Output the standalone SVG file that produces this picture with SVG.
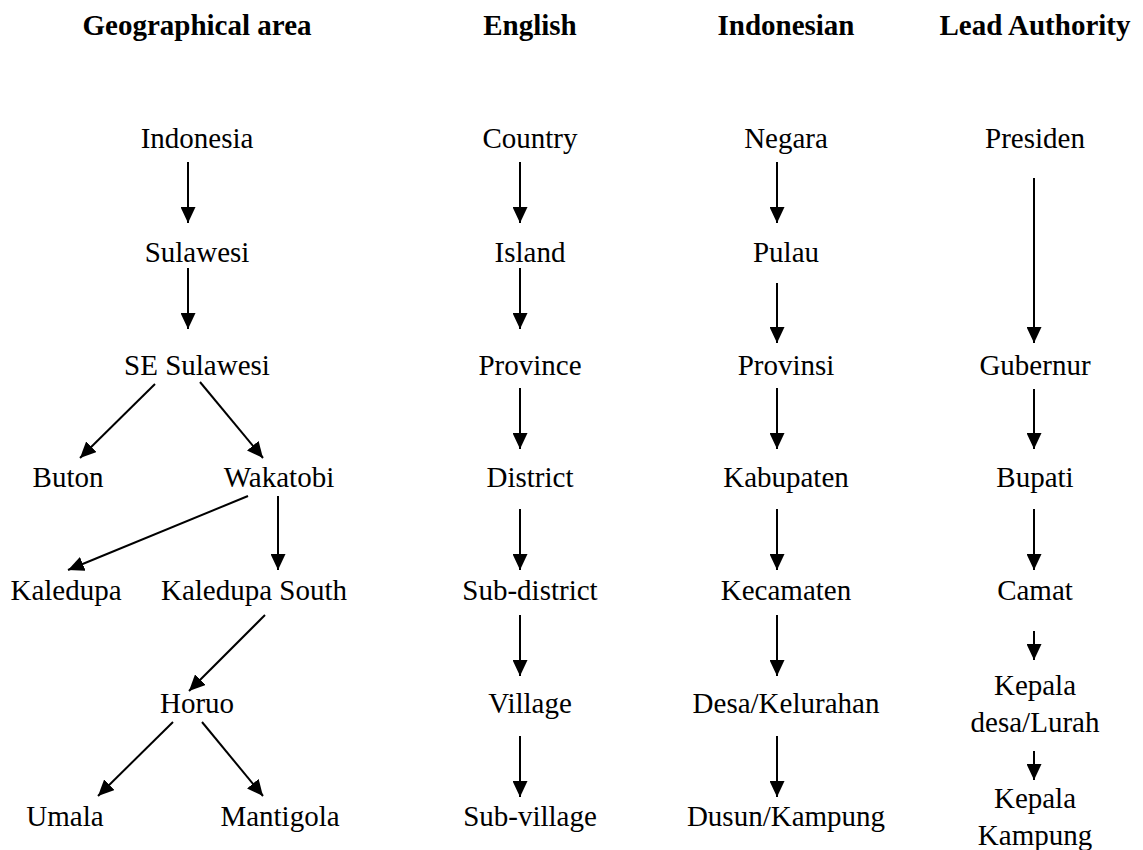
<svg xmlns="http://www.w3.org/2000/svg" width="1143" height="850" viewBox="0 0 1143 850">
<style>
text{font-family:"Liberation Serif","Times New Roman",serif;font-size:29px;fill:#000;text-anchor:middle}
.h{font-weight:bold}
.c line{stroke:#000;stroke-width:2;marker-end:url(#ah)}
</style>
<defs>
<marker id="ah" markerUnits="userSpaceOnUse" markerWidth="16" markerHeight="15" refX="16" refY="7.5" orient="auto" viewBox="0 0 16 15">
<path d="M0,0 L16,7.5 L0,15 z" fill="#000"/>
</marker>
</defs>
<rect width="1143" height="850" fill="#fff"/>
<g id="headers">
<text class="h" x="197" y="35">Geographical area</text>
<text class="h" x="530" y="35">English</text>
<text class="h" x="786" y="35">Indonesian</text>
<text class="h" x="1035" y="35">Lead Authority</text>
</g>
<g id="n-indonesia"><text x="197" y="148">Indonesia</text></g>
<g id="n-sulawesi"><text x="197" y="262">Sulawesi</text></g>
<g id="n-se-sulawesi"><text x="197" y="375">SE Sulawesi</text></g>
<g id="n-buton"><text x="68" y="487">Buton</text></g>
<g id="n-wakatobi"><text x="279" y="487">Wakatobi</text></g>
<g id="n-kaledupa"><text x="66" y="600">Kaledupa</text></g>
<g id="n-kaledupa-south"><text x="254" y="600">Kaledupa South</text></g>
<g id="n-horuo"><text x="197" y="713">Horuo</text></g>
<g id="n-umala"><text x="65" y="826">Umala</text></g>
<g id="n-mantigola"><text x="280" y="826">Mantigola</text></g>
<g id="n-country"><text x="530" y="148">Country</text></g>
<g id="n-island"><text x="530" y="262">Island</text></g>
<g id="n-province"><text x="530" y="375">Province</text></g>
<g id="n-district"><text x="530" y="487">District</text></g>
<g id="n-sub-district"><text x="530" y="600">Sub-district</text></g>
<g id="n-village"><text x="530" y="713">Village</text></g>
<g id="n-sub-village"><text x="530" y="826">Sub-village</text></g>
<g id="n-negara"><text x="786" y="148">Negara</text></g>
<g id="n-pulau"><text x="786" y="262">Pulau</text></g>
<g id="n-provinsi"><text x="786" y="375">Provinsi</text></g>
<g id="n-kabupaten"><text x="786" y="487">Kabupaten</text></g>
<g id="n-kecamaten"><text x="786" y="600">Kecamaten</text></g>
<g id="n-desa"><text x="786" y="713">Desa/Kelurahan</text></g>
<g id="n-dusun"><text x="786" y="826">Dusun/Kampung</text></g>
<g id="n-presiden"><text x="1035" y="148">Presiden</text></g>
<g id="n-gubernur"><text x="1035" y="375">Gubernur</text></g>
<g id="n-bupati"><text x="1035" y="487">Bupati</text></g>
<g id="n-camat"><text x="1035" y="600">Camat</text></g>
<g id="n-kepala-desa"><text x="1035" y="695">Kepala</text><text x="1035" y="732">desa/Lurah</text></g>
<g id="n-kepala-kampung"><text x="1035" y="808">Kepala</text><text x="1035" y="845">Kampung</text></g>
<g id="connectors" class="c">
<line x1="188" y1="162" x2="188" y2="223"/>
<line x1="188" y1="268" x2="188" y2="329"/>
<line x1="155" y1="384" x2="80" y2="458"/>
<line x1="200" y1="382" x2="263" y2="458"/>
<line x1="248" y1="496" x2="68" y2="570"/>
<line x1="278" y1="496" x2="278" y2="570"/>
<line x1="265" y1="615" x2="189" y2="691"/>
<line x1="173" y1="722" x2="98" y2="796"/>
<line x1="202" y1="722" x2="263" y2="796"/>
<line x1="520" y1="162" x2="520" y2="223"/>
<line x1="520" y1="268" x2="520" y2="329"/>
<line x1="520" y1="388" x2="520" y2="449"/>
<line x1="520" y1="509" x2="520" y2="570"/>
<line x1="520" y1="615" x2="520" y2="676"/>
<line x1="520" y1="736" x2="520" y2="797"/>
<line x1="777" y1="162" x2="777" y2="223"/>
<line x1="777" y1="283" x2="777" y2="343"/>
<line x1="777" y1="388" x2="777" y2="449"/>
<line x1="777" y1="509" x2="777" y2="570"/>
<line x1="777" y1="615" x2="777" y2="676"/>
<line x1="777" y1="736" x2="777" y2="797"/>
<line x1="1034" y1="178" x2="1034" y2="343"/>
<line x1="1034" y1="389" x2="1034" y2="449"/>
<line x1="1034" y1="509" x2="1034" y2="570"/>
<line x1="1034" y1="631" x2="1034" y2="660"/>
<line x1="1034" y1="751" x2="1034" y2="780"/>
</g>
</svg>
